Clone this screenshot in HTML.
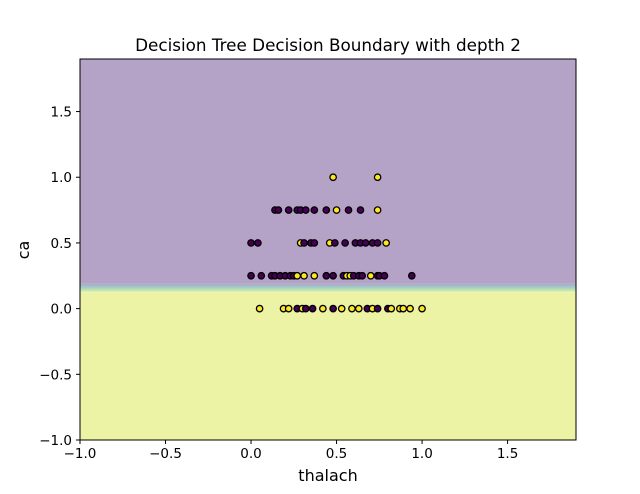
<!DOCTYPE html>
<html><head><meta charset="utf-8"><style>
body{margin:0;background:#fff;}
svg{display:block;font-family:"DejaVu Sans","Liberation Sans",sans-serif;}
</style></head><body>
<svg id="chart" width="640" height="494" viewBox="0 0 640 494">
<defs>
<linearGradient id="band" x1="0" y1="0" x2="0" y2="1">
<stop offset="0" stop-color="#b4a3c6"/>
<stop offset="0.35" stop-color="#9fc6cb"/>
<stop offset="0.7" stop-color="#b6e0b4"/>
<stop offset="1" stop-color="#ecf3a5"/>
</linearGradient>
</defs>
<g id="plot"></g>
<text x="328" y="51" text-anchor="middle" font-size="16.8">Decision Tree Decision Boundary with depth 2</text>
<text x="328" y="481" text-anchor="middle" font-size="16">thalach</text>
<text x="0" y="0" transform="translate(29,250) rotate(-90)" text-anchor="middle" font-size="16">ca</text>
</svg>
<script>
const xTicks=[-1.0,-0.5,0.0,0.5,1.0,1.5];
const yTicks=[-1.0,-0.5,0.0,0.5,1.0,1.5];
const boundaryTop=0.19, boundaryBottom=0.125;
const ptsX=[0.48,0.74, 0.14,0.16,0.22,0.27,0.29,0.32,0.37,0.44,0.50,0.57,0.64,0.74,
 0.0,0.04,0.29,0.31,0.35,0.37,0.46,0.49,0.55,0.61,0.64,0.67,0.71,0.74,0.79,
 0,0.06,0.12,0.14,0.17,0.2,0.23,0.25,0.27,0.31,0.37,0.44,0.48,0.54,0.56,0.58,0.6,0.63,0.65,0.70,0.74,0.75,0.78,0.94,
 0.05,0.19,0.22,0.27,0.30,0.32,0.36,0.42,0.48,0.53,0.59,0.63,0.68,0.71,0.74,0.8,0.82,0.87,0.89,0.93,1.0];
const ptsY=[1,1, 0.75,0.75,0.75,0.75,0.75,0.75,0.75,0.75,0.75,0.75,0.75,0.75,
 0.5,0.5,0.5,0.5,0.5,0.5,0.5,0.5,0.5,0.5,0.5,0.5,0.5,0.5,0.5,
 0.25,0.25,0.25,0.25,0.25,0.25,0.25,0.25,0.25,0.25,0.25,0.25,0.25,0.25,0.25,0.25,0.25,0.25,0.25,0.25,0.25,0.25,0.25,0.25,
 0,0,0,0,0,0,0,0,0,0,0,0,0,0,0,0,0,0,0,0,0];
const ptsC=[1,1, 0,0,0,0,0,0,0,0,1,0,0,1,
 0,0,1,0,0,0,1,0,0,0,0,0,0,0,1,
 0,0,0,0,0,0,0,0,1,1,1,0,0,0,1,1,0,0,0,1,0,0,0,0,
 1,1,1,0,1,0,0,1,0,1,1,1,0,1,0,0,1,1,1,1,1];
const L=80,R=576,T=59,B=440,x0=-1,x1=1.9,y0=-1,y1=1.9;
const sx=v=>L+(v-x0)/(x1-x0)*(R-L);
const sy=v=>B-(v-y0)/(y1-y0)*(B-T);
const NS='http://www.w3.org/2000/svg';
const g=document.getElementById('plot');
function mk(t,a){const e=document.createElementNS(NS,t);for(const k in a)e.setAttribute(k,a[k]);g.appendChild(e);return e;}
let r=mk('rect',{x:L,y:T,width:R-L,height:sy(boundaryTop)-T,fill:'#b4a3c6'});


r=mk('rect',{x:L,y:sy(boundaryTop),width:R-L,height:sy(boundaryBottom)-sy(boundaryTop),fill:'url(#band)'});


r=mk('rect',{x:L,y:sy(boundaryBottom),width:R-L,height:B-sy(boundaryBottom),fill:'#ecf3a5'});


for(let i=0;i<ptsX.length;i++){
 const c=mk('circle',{cx:sx(ptsX[i]),cy:sy(ptsY[i]),r:3.2,fill:ptsC[i]?'#fde725':'#440154',stroke:'#000','stroke-width':1.3});
 
 
}
const fr=mk('rect',{x:L,y:T,width:R-L,height:B-T,fill:'none',stroke:'#000','stroke-width':1});


xTicks.forEach(v=>{
 const x=sx(v);
 const t=mk('line',{x1:x,x2:x,y1:B,y2:B+4,stroke:'#000'});
 
 
 const l=mk('text',{x:x,y:B+18,'text-anchor':'middle','font-size':13.5});
 l.textContent=v.toFixed(1).replace('-','\u2212');
 
 
});
yTicks.forEach(v=>{
 const y=sy(v);
 const t=mk('line',{x1:L-4,x2:L,y1:y,y2:y,stroke:'#000'});
 
 
 const l=mk('text',{x:L-8,y:y+5,'text-anchor':'end','font-size':13.5});
 l.textContent=v.toFixed(1).replace('-','\u2212');
 
 
});
</script>
</body></html>
